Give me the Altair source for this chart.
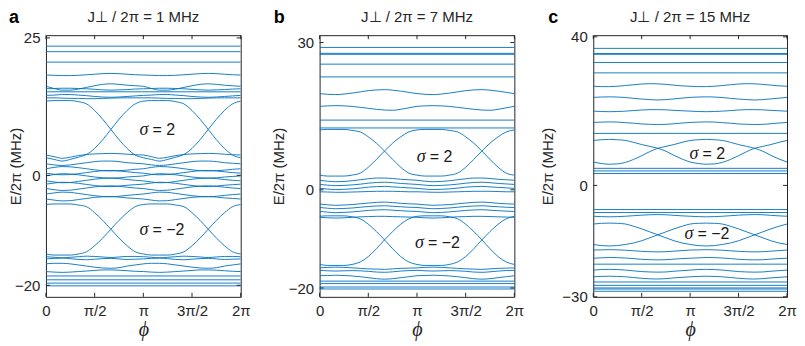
import altair as alt
import pandas as pd

BLUE = "#0072BD"
INK = "#262626"
SANS = "Liberation Sans"
SERIF = "Liberation Serif"
H = 262

# phase grid, in units of pi
PHI = [k / 12 for k in range(25)]
X_TICKS = [0, 0.5, 1, 1.5, 2]
X_TICK_LABELS = ["0", "π/2", "π", "3π/2", "2π"]

# ---------------- panel a : J/2pi = 1 MHz ----------------
A_TITLE = "J⊥ / 2π = 1 MHz"
A_Y_DOMAIN = [-22.1, 25.5]
A_Y_TICKS = [-20, 0, 25]
A_FLAT = [23.5, 22.5, 20.6, 15.2, -18.3, -19.0, -19.6, -20.1]
A_P1 = [13.5, 13.6, 13.6, 13.6, 13.4, 13.0, 11.8, 10.2, 8.35, 6.5, 4.9, 3.7, 3.2, 2.9, 2.6, 2.9, 3.3, 3.8, 4.9, 6.5, 8.35, 10.2, 11.8, 13.0, 13.5]
A_P2 = [3.2, 2.9, 2.6, 2.9, 3.3, 3.8, 4.9, 6.5, 8.35, 10.2, 11.8, 13.0, 13.5, 13.6, 13.6, 13.6, 13.4, 13.0, 11.8, 10.2, 8.35, 6.5, 4.9, 3.7, 3.2]
A_Q1 = [-5.3, -5.2, -5.2, -5.2, -5.4, -5.7, -6.8, -8.2, -9.8, -11.4, -12.8, -13.9, -14.3, -14.5, -14.5, -14.5, -14.3, -13.9, -12.8, -11.4, -9.8, -8.2, -6.8, -5.7, -5.3]
A_Q2 = [-14.3, -14.5, -14.5, -14.5, -14.3, -13.9, -12.8, -11.4, -9.8, -8.2, -6.8, -5.7, -5.3, -5.2, -5.2, -5.2, -5.4, -5.7, -6.8, -8.2, -9.8, -11.4, -12.8, -13.9, -14.3]
A_U1 = [18.25, 18.2, 18.15, 18.15, 18.2, 18.3, 18.4, 18.5, 18.55, 18.5, 18.4, 18.3, 18.25, 18.2, 18.15, 18.15, 18.2, 18.3, 18.4, 18.5, 18.55, 18.5, 18.4, 18.3, 18.25]
A_U2 = [16.2, 15.8, 15.5, 15.5, 15.7, 16.0, 16.3, 16.55, 16.65, 16.55, 16.4, 16.3, 16.2, 15.8, 15.5, 15.5, 15.7, 16.0, 16.3, 16.55, 16.65, 16.55, 16.4, 16.3, 16.2]
A_U3 = [15.75, 15.8, 15.85, 15.85, 15.8, 15.75, 15.65, 15.55, 15.5, 15.55, 15.6, 15.7, 15.75, 15.8, 15.85, 15.85, 15.8, 15.75, 15.65, 15.55, 15.5, 15.55, 15.6, 15.7, 15.75]
A_U4 = [14.55, 14.6, 14.7, 14.7, 14.6, 14.5, 14.35, 14.25, 14.2, 14.25, 14.35, 14.45, 14.55, 14.6, 14.7, 14.7, 14.6, 14.5, 14.35, 14.25, 14.2, 14.25, 14.35, 14.45, 14.55]
A_U5 = [14.1, 14.1, 14.05, 14.0, 14.0, 13.95, 13.95, 14.0, 14.05, 14.1, 14.1, 14.1, 14.1, 14.1, 14.05, 14.0, 14.0, 13.95, 13.95, 14.0, 14.05, 14.1, 14.1, 14.1, 14.1]
A_M1 = [3.7, 3.4, 3.1, 3.3, 3.6, 3.8, 3.9, 3.95, 4.0, 3.95, 3.85, 3.75, 3.7, 3.4, 3.1, 3.3, 3.6, 3.8, 3.9, 3.95, 4.0, 3.95, 3.85, 3.75, 3.7]
A_M2 = [2.1, 1.9, 1.8, 1.9, 2.1, 2.3, 2.5, 2.6, 2.6, 2.5, 2.3, 2.2, 2.1, 1.9, 1.8, 1.9, 2.1, 2.3, 2.5, 2.6, 2.6, 2.5, 2.3, 2.2, 2.1]
A_M3 = [1.2, 1.45, 1.6, 1.55, 1.4, 1.2, 1.0, 0.85, 0.8, 0.85, 0.95, 1.1, 1.2, 1.45, 1.6, 1.55, 1.4, 1.2, 1.0, 0.85, 0.8, 0.85, 0.95, 1.1, 1.2]
A_M4 = [0.4, 0.2, 0.1, 0.15, 0.3, 0.5, 0.7, 0.85, 0.9, 0.8, 0.65, 0.5, 0.4, 0.2, 0.1, 0.15, 0.3, 0.5, 0.7, 0.85, 0.9, 0.8, 0.65, 0.5, 0.4]
A_M5 = [-0.1, 0.15, 0.3, 0.25, 0.1, -0.1, -0.3, -0.45, -0.5, -0.45, -0.3, -0.2, -0.1, 0.15, 0.3, 0.25, 0.1, -0.1, -0.3, -0.45, -0.5, -0.45, -0.3, -0.2, -0.1]
A_M6 = [-1.0, -1.2, -1.35, -1.3, -1.1, -0.9, -0.7, -0.55, -0.5, -0.6, -0.75, -0.9, -1.0, -1.2, -1.35, -1.3, -1.1, -0.9, -0.7, -0.55, -0.5, -0.6, -0.75, -0.9, -1.0]
A_M7 = [-1.6, -1.4, -1.25, -1.3, -1.45, -1.65, -1.85, -2.0, -2.05, -1.95, -1.8, -1.7, -1.6, -1.4, -1.25, -1.3, -1.45, -1.65, -1.85, -2.0, -2.05, -1.95, -1.8, -1.7, -1.6]
A_M8 = [-2.4, -2.6, -2.75, -2.7, -2.5, -2.3, -2.1, -1.95, -1.9, -2.0, -2.15, -2.3, -2.4, -2.6, -2.75, -2.7, -2.5, -2.3, -2.1, -1.95, -1.9, -2.0, -2.15, -2.3, -2.4]
A_M9 = [-3.4, -3.2, -3.05, -3.1, -3.3, -3.5, -3.7, -3.85, -3.9, -3.8, -3.65, -3.5, -3.4, -3.2, -3.05, -3.1, -3.3, -3.5, -3.7, -3.85, -3.9, -3.8, -3.65, -3.5, -3.4]
A_M10 = [-4.3, -4.5, -4.65, -4.6, -4.4, -4.2, -4.0, -3.9, -3.85, -3.95, -4.1, -4.2, -4.3, -4.5, -4.65, -4.6, -4.4, -4.2, -4.0, -3.9, -3.85, -3.95, -4.1, -4.2, -4.3]
A_L1 = [-14.8, -14.9, -15.0, -14.9, -14.8, -14.7, -14.75, -14.85, -14.95, -14.85, -14.75, -14.75, -14.8, -14.9, -15.0, -14.9, -14.8, -14.7, -14.75, -14.85, -14.95, -14.85, -14.75, -14.75, -14.8]
A_L2 = [-15.2, -15.1, -15.05, -15.15, -15.3, -15.35, -15.25, -15.15, -15.1, -15.2, -15.3, -15.25, -15.2, -15.1, -15.05, -15.15, -15.3, -15.35, -15.25, -15.15, -15.1, -15.2, -15.3, -15.25, -15.2]
A_L3 = [-16.1, -16.0, -16.0, -16.1, -16.3, -16.5, -16.7, -16.85, -16.9, -16.8, -16.5, -16.3, -16.1, -16.0, -16.0, -16.1, -16.3, -16.5, -16.7, -16.85, -16.9, -16.8, -16.5, -16.3, -16.1]
A_L4 = [-17.5, -17.6, -17.65, -17.6, -17.5, -17.4, -17.3, -17.2, -17.2, -17.25, -17.35, -17.45, -17.5, -17.6, -17.65, -17.6, -17.5, -17.4, -17.3, -17.2, -17.2, -17.25, -17.35, -17.45, -17.5]
A_LINES = [A_P1, A_P2, A_Q1, A_Q2, A_U1, A_U2, A_U3, A_U4, A_U5, A_M1, A_M2, A_M3, A_M4, A_M5,
           A_M6, A_M7, A_M8, A_M9, A_M10, A_L1, A_L2, A_L3, A_L4]
A_SIGMA_PHI = [1.052, 1.052]
A_SIGMA_E = [8.2, -10.0]
A_SIGMA_TEXT = ["= 2", "= −2"]

# ---------------- panel b : J/2pi = 7 MHz ----------------
B_TITLE = "J⊥ / 2π = 7 MHz"
B_Y_DOMAIN = [-21.8, 31.5]
B_Y_TICKS = [-20, 0, 30]
B_FLAT = [29.0, 27.8, 27.6, 25.6, 23.0, 14.2, 12.6, -18.6, -19.1, -19.8, -20.2]
B_P1 = [12.2, 12.3, 12.3, 12.3, 12.1, 11.8, 10.8, 9.5, 7.9, 6.2, 4.6, 3.4, 3.0, 2.8, 2.8, 2.8, 3.0, 3.4, 4.6, 6.2, 7.9, 9.5, 10.8, 11.8, 12.2]
B_P2 = [3.0, 2.8, 2.8, 2.8, 3.0, 3.4, 4.6, 6.2, 7.9, 9.5, 10.8, 11.8, 12.2, 12.3, 12.3, 12.3, 12.1, 11.8, 10.8, 9.5, 7.9, 6.2, 4.6, 3.4, 3.0]
B_Q1 = [-5.4, -5.3, -5.3, -5.3, -5.5, -5.9, -7.0, -8.5, -10.2, -12.0, -13.6, -14.7, -15.2, -15.4, -15.4, -15.4, -15.2, -14.7, -13.6, -12.0, -10.2, -8.5, -7.0, -5.9, -5.4]
B_Q2 = [-15.2, -15.4, -15.4, -15.4, -15.2, -14.7, -13.6, -12.0, -10.2, -8.5, -7.0, -5.9, -5.4, -5.3, -5.3, -5.3, -5.5, -5.9, -7.0, -8.5, -10.2, -12.0, -13.6, -14.7, -15.2]
B_U1 = [19.6, 19.45, 19.4, 19.5, 19.7, 19.95, 20.2, 20.35, 20.4, 20.3, 20.1, 19.85, 19.6, 19.45, 19.4, 19.5, 19.7, 19.95, 20.2, 20.35, 20.4, 20.3, 20.1, 19.85, 19.6]
B_U2 = [17.0, 17.1, 17.15, 17.1, 17.0, 16.8, 16.6, 16.4, 16.25, 16.2, 16.4, 16.7, 17.0, 17.1, 17.15, 17.1, 17.0, 16.8, 16.6, 16.4, 16.25, 16.2, 16.4, 16.7, 17.0]
B_M1 = [1.95, 1.75, 1.65, 1.7, 1.85, 2.05, 2.25, 2.4, 2.4, 2.3, 2.15, 2.05, 1.95, 1.75, 1.65, 1.7, 1.85, 2.05, 2.25, 2.4, 2.4, 2.3, 2.15, 2.05, 1.95]
B_M2 = [1.1, 0.95, 0.85, 0.9, 1.0, 1.15, 1.35, 1.5, 1.55, 1.45, 1.3, 1.2, 1.1, 0.95, 0.85, 0.9, 1.0, 1.15, 1.35, 1.5, 1.55, 1.45, 1.3, 1.2, 1.1]
B_M3 = [0.3, 0.15, 0.05, 0.1, 0.2, 0.35, 0.55, 0.65, 0.7, 0.6, 0.5, 0.4, 0.3, 0.15, 0.05, 0.1, 0.2, 0.35, 0.55, 0.65, 0.7, 0.6, 0.5, 0.4, 0.3]
B_M4 = [-0.4, -0.45, -0.5, -0.5, -0.45, -0.4, -0.35, -0.3, -0.3, -0.3, -0.35, -0.4, -0.4, -0.45, -0.5, -0.5, -0.45, -0.4, -0.35, -0.3, -0.3, -0.3, -0.35, -0.4, -0.4]
B_M5 = [-2.9, -3.05, -3.15, -3.1, -3.0, -2.85, -2.7, -2.55, -2.5, -2.6, -2.75, -2.85, -2.9, -3.05, -3.15, -3.1, -3.0, -2.85, -2.7, -2.55, -2.5, -2.6, -2.75, -2.85, -2.9]
B_M6 = [-3.6, -3.75, -3.85, -3.8, -3.7, -3.55, -3.4, -3.3, -3.25, -3.35, -3.45, -3.55, -3.6, -3.75, -3.85, -3.8, -3.7, -3.55, -3.4, -3.3, -3.25, -3.35, -3.45, -3.55, -3.6]
B_M7 = [-4.4, -4.55, -4.65, -4.6, -4.5, -4.35, -4.2, -4.1, -4.05, -4.15, -4.25, -4.35, -4.4, -4.55, -4.65, -4.6, -4.5, -4.35, -4.2, -4.1, -4.05, -4.15, -4.25, -4.35, -4.4]
B_M8 = [-5.6, -5.7, -5.75, -5.7, -5.6, -5.5, -5.45, -5.4, -5.4, -5.45, -5.5, -5.55, -5.6, -5.7, -5.75, -5.7, -5.6, -5.5, -5.45, -5.4, -5.4, -5.45, -5.5, -5.55, -5.6]
B_L1 = [-15.9, -15.8, -15.75, -15.8, -15.9, -16.0, -16.1, -16.15, -16.2, -16.1, -16.0, -15.95, -15.9, -15.8, -15.75, -15.8, -15.9, -16.0, -16.1, -16.15, -16.2, -16.1, -16.0, -15.95, -15.9]
B_L2 = [-16.4, -16.5, -16.55, -16.5, -16.45, -16.5, -16.6, -16.75, -16.8, -16.7, -16.55, -16.45, -16.4, -16.5, -16.55, -16.5, -16.45, -16.5, -16.6, -16.75, -16.8, -16.7, -16.55, -16.45, -16.4]
B_L3 = [-17.5, -17.45, -17.4, -17.45, -17.55, -17.7, -17.9, -18.1, -18.2, -18.1, -17.9, -17.7, -17.5, -17.45, -17.4, -17.45, -17.55, -17.7, -17.9, -18.1, -18.2, -18.1, -17.9, -17.7, -17.5]
B_LINES = [B_P1, B_P2, B_Q1, B_Q2, B_U1, B_U2, B_M1, B_M2, B_M3, B_M4, B_M5, B_M6, B_M7, B_M8,
           B_L1, B_L2, B_L3]
B_SIGMA_PHI = [1.089, 1.071]
B_SIGMA_E = [6.75, -10.8]
B_SIGMA_TEXT = ["= 2", "= −2"]

# ---------------- panel c : J/2pi = 15 MHz ----------------
C_TITLE = "J⊥ / 2π = 15 MHz"
C_Y_DOMAIN = [-30.0, 40.45]
C_Y_TICKS = [-30, 0, 40]
C_FLAT = [36.9, 35.5, 35.3, 33.1, 30.3, 14.0, 4.6, 3.9, 3.2, -6.5, -7.3, -21.2, -26.0, -26.9, -27.6, -27.9, -28.5]
C_P1 = [12.1, 12.3, 12.4, 12.3, 12.1, 11.6, 11.0, 10.5, 10.0, 9.2, 8.1, 7.1, 6.3, 5.9, 5.7, 5.8, 6.2, 7.0, 8.0, 9.1, 10.0, 10.5, 11.0, 11.6, 12.1]
C_P2 = [6.3, 5.9, 5.7, 5.8, 6.2, 7.0, 8.0, 9.1, 10.0, 10.5, 11.0, 11.6, 12.1, 12.3, 12.4, 12.3, 12.1, 11.6, 11.0, 10.5, 10.0, 9.2, 8.1, 7.1, 6.3]
C_Q1 = [-10.4, -10.2, -10.15, -10.2, -10.4, -11.0, -11.7, -12.5, -13.3, -14.1, -14.9, -15.5, -15.9, -16.2, -16.3, -16.2, -15.9, -15.5, -14.9, -14.1, -13.3, -12.5, -11.7, -11.0, -10.4]
C_Q2 = [-15.9, -16.2, -16.3, -16.2, -15.9, -15.5, -14.9, -14.1, -13.3, -12.5, -11.7, -11.0, -10.4, -10.2, -10.15, -10.2, -10.4, -11.0, -11.7, -12.5, -13.3, -14.1, -14.9, -15.5, -15.9]
C_U1 = [26.7, 26.6, 26.6, 26.7, 26.9, 27.1, 27.3, 27.4, 27.35, 27.2, 27.0, 26.8, 26.7, 26.6, 26.6, 26.7, 26.9, 27.1, 27.3, 27.4, 27.35, 27.2, 27.0, 26.8, 26.7]
C_U2 = [23.7, 23.8, 23.85, 23.8, 23.65, 23.45, 23.25, 23.1, 23.0, 23.1, 23.3, 23.5, 23.7, 23.8, 23.85, 23.8, 23.65, 23.45, 23.25, 23.1, 23.0, 23.1, 23.3, 23.5, 23.7]
C_U3 = [20.0, 19.9, 19.85, 19.9, 20.0, 20.15, 20.3, 20.4, 20.4, 20.35, 20.2, 20.1, 20.0, 19.9, 19.85, 19.9, 20.0, 20.15, 20.3, 20.4, 20.4, 20.35, 20.2, 20.1, 20.0]
C_U4 = [16.95, 17.05, 17.1, 17.05, 16.9, 16.75, 16.55, 16.45, 16.4, 16.45, 16.6, 16.8, 16.95, 17.05, 17.1, 17.05, 16.9, 16.75, 16.55, 16.45, 16.4, 16.45, 16.6, 16.8, 16.95]
C_M1 = [-8.3, -8.4, -8.45, -8.4, -8.3, -8.15, -8.0, -7.9, -7.85, -7.9, -8.05, -8.2, -8.3, -8.4, -8.45, -8.4, -8.3, -8.15, -8.0, -7.9, -7.85, -7.9, -8.05, -8.2, -8.3]
C_L1 = [-17.4, -17.35, -17.3, -17.35, -17.45, -17.6, -17.75, -17.85, -17.9, -17.85, -17.7, -17.55, -17.4, -17.35, -17.3, -17.35, -17.45, -17.6, -17.75, -17.85, -17.9, -17.85, -17.7, -17.55, -17.4]
C_L2 = [-19.6, -19.5, -19.4, -19.45, -19.55, -19.7, -19.9, -20.0, -20.05, -20.0, -19.85, -19.7, -19.6, -19.5, -19.4, -19.45, -19.55, -19.7, -19.9, -20.0, -20.05, -20.0, -19.85, -19.7, -19.6]
C_L3 = [-22.8, -22.65, -22.6, -22.65, -22.8, -23.0, -23.2, -23.3, -23.35, -23.3, -23.1, -22.95, -22.8, -22.65, -22.6, -22.65, -22.8, -23.0, -23.2, -23.3, -23.35, -23.3, -23.1, -22.95, -22.8]
C_L4 = [-24.6, -24.5, -24.45, -24.5, -24.6, -24.8, -25.0, -25.15, -25.2, -25.1, -24.9, -24.75, -24.6, -24.5, -24.45, -24.5, -24.6, -24.8, -25.0, -25.15, -25.2, -25.1, -24.9, -24.75, -24.6]
C_LINES = [C_P1, C_P2, C_Q1, C_Q2, C_U1, C_U2, C_U3, C_U4, C_M1, C_L1, C_L2, C_L3, C_L4]
C_SIGMA_PHI = [1.086, 1.034]
C_SIGMA_E = [8.5, -13.0]
C_SIGMA_TEXT = ["= 2", "= −2"]

LABEL_EXPR = "".join(f"datum.value == {v} ? '{l}' : " for v, l in zip(X_TICKS, X_TICK_LABELS)) + "''"


def panel(flat, lines, ydom, yticks, width, title, letter, letter_x, ytitle_x,
          sig_phi, sig_e, sig_text):
    rows = []
    for i, lvl in enumerate(flat):
        rows.append({"line": f"f{i}", "phi": 0.0, "E": lvl})
        rows.append({"line": f"f{i}", "phi": 2.0, "E": lvl})
    for i, vals in enumerate(lines):
        for p, e in zip(PHI, vals):
            rows.append({"line": f"w{i}", "phi": p, "E": e})
    df = pd.DataFrame(rows)

    X = alt.X("phi:Q", scale=alt.Scale(domain=[0, 2], nice=False, zero=False),
              axis=alt.Axis(values=X_TICKS, labelExpr=LABEL_EXPR, ticks=False, tickSize=0,
                            domain=False, grid=False, labelFlush=False, labelPadding=7,
                            labelFont=SANS, labelFontSize=15, labelColor=INK,
                            title="ϕ", titleFont=SERIF, titleFontStyle="italic",
                            titleFontWeight="normal", titleFontSize=20, titleColor=INK,
                            titlePadding=1))
    Y = alt.Y("E:Q", scale=alt.Scale(domain=ydom, nice=False, zero=False),
              axis=alt.Axis(values=yticks, ticks=False, tickSize=0, domain=False, grid=False,
                            labelPadding=6, labelFont=SANS, labelFontSize=15, labelColor=INK,
                            title="E/2π (MHz)", titleFont=SANS, titleFontSize=15,
                            titleFontWeight="normal", titleColor=INK, titleX=ytitle_x))

    curves = alt.Chart(df).mark_line(color=BLUE, strokeWidth=0.9, interpolate="monotone",
                                     clip=True).encode(x=X, y=Y, detail="line:N")

    ydf = pd.DataFrame({"E": yticks})
    xdf = pd.DataFrame({"phi": X_TICKS})
    tick_style = dict(color=INK, strokeWidth=1)
    yl = alt.Chart(ydf).mark_rule(**tick_style).encode(y=Y, x=alt.value(0), x2=alt.value(4))
    yr = alt.Chart(ydf).mark_rule(**tick_style).encode(y=Y, x=alt.value(width - 4), x2=alt.value(width))
    xb = alt.Chart(xdf).mark_rule(**tick_style).encode(x=X, y=alt.value(H - 4), y2=alt.value(H))
    xt = alt.Chart(xdf).mark_rule(**tick_style).encode(x=X, y=alt.value(0), y2=alt.value(4))

    sdf = pd.DataFrame({"phi": sig_phi, "E": sig_e, "t": sig_text})
    sig = alt.Chart(sdf).mark_text(text="σ", align="right", baseline="middle", font=SERIF,
                                   fontStyle="italic", fontSize=18, color="#1a1a1a").encode(x=X, y=Y)
    rest = alt.Chart(sdf).mark_text(align="left", baseline="middle", dx=4, font=SANS,
                                    fontSize=16, color="#1a1a1a").encode(x=X, y=Y, text="t:N")

    ldf = pd.DataFrame({"t": [letter]})
    let = alt.Chart(ldf).mark_text(align="left", baseline="alphabetic", font=SANS, fontSize=18,
                                   fontWeight="bold", color="black").encode(
        x=alt.value(letter_x), y=alt.value(-12), text="t:N")

    tdf = pd.DataFrame({"t": [title]})
    ttl = alt.Chart(tdf).mark_text(align="center", baseline="alphabetic", font=SANS, fontSize=15,
                                   color=INK).encode(
        x=alt.value(width / 2), y=alt.value(-13), text="t:N")

    return alt.layer(curves, yl, yr, xb, xt, sig, rest, let, ttl).properties(width=width, height=H)


pa = panel(A_FLAT, A_LINES, A_Y_DOMAIN, A_Y_TICKS, 195, A_TITLE, "a", -37, -22,
           A_SIGMA_PHI, A_SIGMA_E, A_SIGMA_TEXT)
pb = panel(B_FLAT, B_LINES, B_Y_DOMAIN, B_Y_TICKS, 195, B_TITLE, "b", -46, -33,
           B_SIGMA_PHI, B_SIGMA_E, B_SIGMA_TEXT)
pc = panel(C_FLAT, C_LINES, C_Y_DOMAIN, C_Y_TICKS, 194, C_TITLE, "c", -45, -38,
           C_SIGMA_PHI, C_SIGMA_E, C_SIGMA_TEXT)

chart = alt.hconcat(pa, pb, pc, spacing=79, bounds="flush").configure_view(
    stroke=INK, strokeWidth=1).properties(padding={"left": 0, "top": 0, "right": 0, "bottom": 0})

chart.save("out.html", embed_options={"renderer": "svg", "actions": False})
